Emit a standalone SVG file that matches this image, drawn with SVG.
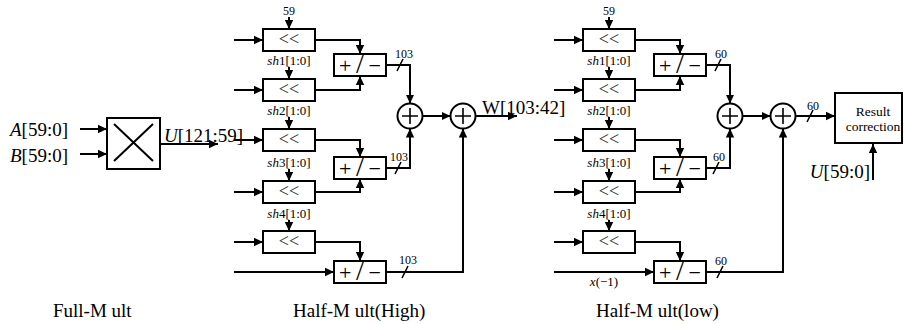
<svg xmlns="http://www.w3.org/2000/svg" width="904" height="324" viewBox="0 0 904 324">
<style>
.ln{stroke:#000;stroke-width:2;fill:none}
.tk{stroke:#000;stroke-width:1.6;fill:none}
.bx{fill:#fff;stroke:#000;stroke-width:2}
.ci{fill:#fff;stroke:#000;stroke-width:2}
.pl{stroke:#000;stroke-width:1.6}
.t{font-family:"Liberation Serif","Times New Roman",serif;fill:#000}
.big{font-size:19px}
.sm{font-size:12px}
.md{font-size:13px}
.sh{font-size:18px;text-anchor:middle;fill:#333}
.pm{font-size:22px;letter-spacing:4.6px}
.i{font-style:italic}
.c{text-anchor:middle}
</style>
<defs>
<marker id="ah" markerWidth="10" markerHeight="10" refX="9" refY="5" orient="auto" markerUnits="userSpaceOnUse">
<path d="M0,0.8 L9,5 L0,9.2 z" fill="#000"/>
</marker>
</defs>

<g id="connectors">
<path class="ln" d="M80,129 H107" marker-end="url(#ah)"/>
<path class="ln" d="M80,154 H107" marker-end="url(#ah)"/>
<path class="ln" d="M160,144 H218" marker-end="url(#ah)"/>
<path class="ln" d="M234,40 H263" marker-end="url(#ah)"/>
<path class="ln" d="M234,90 H263" marker-end="url(#ah)"/>
<path class="ln" d="M234,140 H263" marker-end="url(#ah)"/>
<path class="ln" d="M234,192 H263" marker-end="url(#ah)"/>
<path class="ln" d="M234,242 H263" marker-end="url(#ah)"/>
<path class="ln" d="M234,272 H334" marker-end="url(#ah)"/>
<path class="ln" d="M289,17 V29" marker-end="url(#ah)"/>
<path class="ln" d="M289,67 V79" marker-end="url(#ah)"/>
<path class="ln" d="M289,117 V129" marker-end="url(#ah)"/>
<path class="ln" d="M289,169 V181" marker-end="url(#ah)"/>
<path class="ln" d="M289,220 V231" marker-end="url(#ah)"/>
<path class="ln" d="M315,40 H360 V54" marker-end="url(#ah)"/>
<path class="ln" d="M315,90 H360 V76" marker-end="url(#ah)"/>
<path class="ln" d="M315,140 H360 V157" marker-end="url(#ah)"/>
<path class="ln" d="M315,192 H360 V179" marker-end="url(#ah)"/>
<path class="ln" d="M315,242 H360 V261" marker-end="url(#ah)"/>
<path class="ln" d="M386,65 H410 V103.5" marker-end="url(#ah)"/>
<path class="ln" d="M386,168 H410 V128.5" marker-end="url(#ah)"/>
<path class="ln" d="M386,272 H463 V128.5" marker-end="url(#ah)"/>
<path class="ln" d="M422.5,116 H450.5" marker-end="url(#ah)"/>
<path class="ln" d="M475.5,116 H517" marker-end="url(#ah)"/>
<path class="tk" d="M397,71 L403,59 M395,174 L401,162 M402,278 L408,266"/>
<path class="ln" d="M554,40 H583" marker-end="url(#ah)"/>
<path class="ln" d="M554,90 H583" marker-end="url(#ah)"/>
<path class="ln" d="M554,140 H583" marker-end="url(#ah)"/>
<path class="ln" d="M554,192 H583" marker-end="url(#ah)"/>
<path class="ln" d="M554,242 H583" marker-end="url(#ah)"/>
<path class="ln" d="M554,272 H654" marker-end="url(#ah)"/>
<path class="ln" d="M609,17 V29" marker-end="url(#ah)"/>
<path class="ln" d="M609,67 V79" marker-end="url(#ah)"/>
<path class="ln" d="M609,117 V129" marker-end="url(#ah)"/>
<path class="ln" d="M609,169 V181" marker-end="url(#ah)"/>
<path class="ln" d="M609,220 V231" marker-end="url(#ah)"/>
<path class="ln" d="M635,40 H680 V54" marker-end="url(#ah)"/>
<path class="ln" d="M635,90 H680 V76" marker-end="url(#ah)"/>
<path class="ln" d="M635,140 H680 V157" marker-end="url(#ah)"/>
<path class="ln" d="M635,192 H680 V179" marker-end="url(#ah)"/>
<path class="ln" d="M635,242 H680 V261" marker-end="url(#ah)"/>
<path class="ln" d="M706,65 H730 V103.5" marker-end="url(#ah)"/>
<path class="ln" d="M706,168 H730 V128.5" marker-end="url(#ah)"/>
<path class="ln" d="M706,272 H783 V128.5" marker-end="url(#ah)"/>
<path class="ln" d="M742.5,116 H770.5" marker-end="url(#ah)"/>
<path class="ln" d="M795.5,116 H835" marker-end="url(#ah)"/>
<path class="ln" d="M873,180 V144" marker-end="url(#ah)"/>
<path class="tk" d="M715,71 L721,59 M713,174 L719,162 M717,278 L723,266 M807,122 L813,110"/>
</g>

<g id="labels">
<text class="t big" x="10" y="136"><tspan class="i">A</tspan>[59:0]</text>
<text class="t big" x="10" y="162"><tspan class="i">B</tspan>[59:0]</text>
<text class="t big" x="164" y="142"><tspan class="i">U</tspan>[121:59]</text>
<text class="t sm c" x="289" y="15">59</text>
<text class="t md c" x="289" y="65"><tspan class="i">sh</tspan>1[1:0]</text>
<text class="t md c" x="289" y="115"><tspan class="i">sh</tspan>2[1:0]</text>
<text class="t md c" x="289" y="167"><tspan class="i">sh</tspan>3[1:0]</text>
<text class="t md c" x="289" y="218"><tspan class="i">sh</tspan>4[1:0]</text>
<text class="t sm c" x="404" y="58">103</text>
<text class="t sm c" x="399" y="161">103</text>
<text class="t sm c" x="408" y="264">103</text>
<text class="t big" x="482" y="114">W[103:42]</text>
<text class="t sm c" x="609" y="15">59</text>
<text class="t md c" x="609" y="65"><tspan class="i">sh</tspan>1[1:0]</text>
<text class="t md c" x="609" y="115"><tspan class="i">sh</tspan>2[1:0]</text>
<text class="t md c" x="609" y="167"><tspan class="i">sh</tspan>3[1:0]</text>
<text class="t md c" x="609" y="218"><tspan class="i">sh</tspan>4[1:0]</text>
<text class="t md c" x="604" y="286"><tspan class="i">x</tspan>(−1)</text>
<text class="t sm c" x="721" y="58">60</text>
<text class="t sm c" x="719" y="161">60</text>
<text class="t sm c" x="721" y="265">60</text>
<text class="t sm c" x="813" y="110">60</text>
<text class="t big" x="870" y="178" text-anchor="end"><tspan class="i">U</tspan>[59:0]</text>
<text class="t big" x="53" y="317">Full-M ult</text>
<text class="t big" x="293" y="317">Half-M ult(High)</text>
<text class="t big" x="596" y="317">Half-M ult(low)</text>
</g>

<g id="full-mult">
<rect class="bx" x="107" y="118" width="53" height="51"/>
<path class="ln" d="M114,124 L153,161 M114,161 L153,124"/>
</g>

<g id="high-shift1"><rect class="bx" x="263" y="29" width="52" height="22"/><text class="t sh" x="289" y="45">&lt;&lt;</text></g>
<g id="high-shift2"><rect class="bx" x="263" y="79" width="52" height="22"/><text class="t sh" x="289" y="95">&lt;&lt;</text></g>
<g id="high-shift3"><rect class="bx" x="263" y="129" width="52" height="22"/><text class="t sh" x="289" y="145">&lt;&lt;</text></g>
<g id="high-shift4"><rect class="bx" x="263" y="181" width="52" height="22"/><text class="t sh" x="289" y="197">&lt;&lt;</text></g>
<g id="high-shift5"><rect class="bx" x="263" y="231" width="52" height="22"/><text class="t sh" x="289" y="247">&lt;&lt;</text></g>
<g id="high-addsub1"><rect class="bx" x="334" y="54" width="52" height="22"/><text class="t pm" x="339" y="73">+<tspan font-size="28">/</tspan>−</text></g>
<g id="high-addsub2"><rect class="bx" x="334" y="157" width="52" height="22"/><text class="t pm" x="339" y="176">+<tspan font-size="28">/</tspan>−</text></g>
<g id="high-addsub3"><rect class="bx" x="334" y="261" width="52" height="22"/><text class="t pm" x="339" y="280">+<tspan font-size="28">/</tspan>−</text></g>
<g id="high-adder1"><circle class="ci" cx="410" cy="116" r="12.5"/><path class="pl" d="M402,116 H418 M410,108 V124"/></g>
<g id="high-adder2"><circle class="ci" cx="463" cy="116" r="12.5"/><path class="pl" d="M455,116 H471 M463,108 V124"/></g>

<g id="low-shift1"><rect class="bx" x="583" y="29" width="52" height="22"/><text class="t sh" x="609" y="45">&lt;&lt;</text></g>
<g id="low-shift2"><rect class="bx" x="583" y="79" width="52" height="22"/><text class="t sh" x="609" y="95">&lt;&lt;</text></g>
<g id="low-shift3"><rect class="bx" x="583" y="129" width="52" height="22"/><text class="t sh" x="609" y="145">&lt;&lt;</text></g>
<g id="low-shift4"><rect class="bx" x="583" y="181" width="52" height="22"/><text class="t sh" x="609" y="197">&lt;&lt;</text></g>
<g id="low-shift5"><rect class="bx" x="583" y="231" width="52" height="22"/><text class="t sh" x="609" y="247">&lt;&lt;</text></g>
<g id="low-addsub1"><rect class="bx" x="654" y="54" width="52" height="22"/><text class="t pm" x="659" y="73">+<tspan font-size="28">/</tspan>−</text></g>
<g id="low-addsub2"><rect class="bx" x="654" y="157" width="52" height="22"/><text class="t pm" x="659" y="176">+<tspan font-size="28">/</tspan>−</text></g>
<g id="low-addsub3"><rect class="bx" x="654" y="261" width="52" height="22"/><text class="t pm" x="659" y="280">+<tspan font-size="28">/</tspan>−</text></g>
<g id="low-adder1"><circle class="ci" cx="730" cy="116" r="12.5"/><path class="pl" d="M722,116 H738 M730,108 V124"/></g>
<g id="low-adder2"><circle class="ci" cx="783" cy="116" r="12.5"/><path class="pl" d="M775,116 H791 M783,108 V124"/></g>

<g id="result-correction">
<rect class="bx" x="835" y="93" width="67" height="50"/>
<text class="t c" x="873" y="116" font-size="13.5">Result</text>
<text class="t c" x="873" y="131" font-size="13.5">correction</text>
</g>
</svg>
